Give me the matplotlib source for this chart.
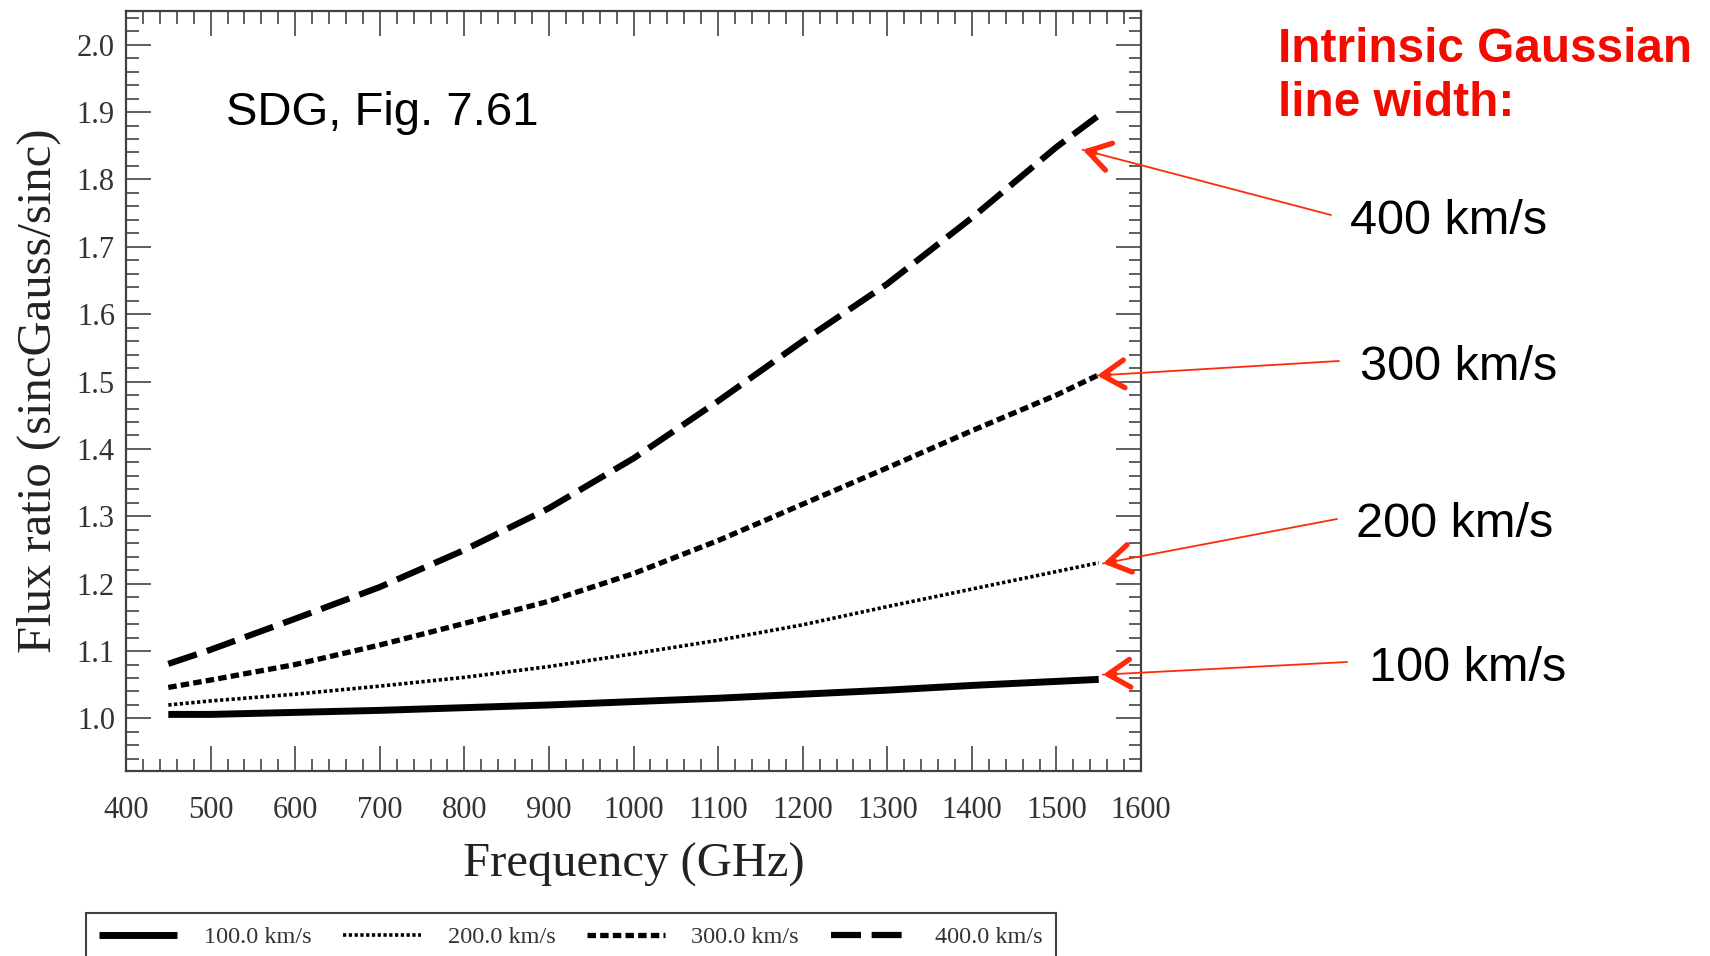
import matplotlib.pyplot as plt
from matplotlib.ticker import MultipleLocator, FormatStrFormatter

plt.rcParams['font.family'] = ['Liberation Serif', 'DejaVu Serif']

# values
freq = [450, 500, 600, 700, 800, 900, 1000, 1100, 1200, 1300, 1400, 1500, 1550]
ratio_100 = [1.006, 1.006, 1.009, 1.012, 1.016, 1.020, 1.025, 1.030, 1.036, 1.042, 1.049, 1.055, 1.058]
ratio_200 = [1.020, 1.026, 1.036, 1.048, 1.061, 1.077, 1.096, 1.116, 1.139, 1.166, 1.192, 1.218, 1.231]
ratio_300 = [1.046, 1.057, 1.080, 1.109, 1.141, 1.174, 1.215, 1.264, 1.318, 1.372, 1.427, 1.480, 1.510]
ratio_400 = [1.081, 1.102, 1.148, 1.195, 1.250, 1.312, 1.386, 1.471, 1.560, 1.645, 1.743, 1.848, 1.895]

legend_labels = ['100.0 km/s', '200.0 km/s', '300.0 km/s', '400.0 km/s']
note_labels = ['100 km/s', '200 km/s', '300 km/s', '400 km/s']

W, H = 1710, 956
fig = plt.figure(figsize=(W / 100, H / 100), dpi=100)
ax = fig.add_axes([126 / W, 1 - 771 / H, (1141 - 126) / W, (771 - 11) / H])

l1, = ax.plot(freq, ratio_100, color='black', lw=5, solid_capstyle='butt')
l2, = ax.plot(freq, ratio_200, color='black', lw=2.6, linestyle=(0, (0.9, 0.7)))
l3, = ax.plot(freq, ratio_300, color='black', lw=3.8, linestyle=(0, (1.6, 0.8)))
l4, = ax.plot(freq, ratio_400, color='black', lw=4.5, linestyle=(0, (4.8, 1.7)))

ax.set_xlim(400, 1600)
ax.set_ylim(0.922, 2.05)
ax.xaxis.set_major_locator(MultipleLocator(100))
ax.xaxis.set_minor_locator(MultipleLocator(20))
ax.yaxis.set_major_locator(MultipleLocator(0.1))
ax.yaxis.set_minor_locator(MultipleLocator(0.02))
ax.yaxis.set_major_formatter(FormatStrFormatter('%.1f'))

ax.tick_params(which='both', direction='in', top=True, right=True,
               color='#444444', labelcolor='#333333', width=1.2, labelsize=22)
ax.tick_params(which='major', length=18)
ax.tick_params(which='minor', length=9)
ax.tick_params(axis='x', pad=18)
ax.tick_params(axis='y', pad=8)
for s in ax.spines.values():
    s.set_linewidth(1.6)
    s.set_color('#404040')

ax.set_xlabel('Frequency (GHz)', fontsize=35, color='#222222', labelpad=13)
ax.set_ylabel('Flux ratio (sincGauss/sinc)', fontsize=35, color='#222222', labelpad=11.5)

# legend box at the bottom, partly cut off like the original
fig.legend([l1, l2, l3, l4], legend_labels, loc='upper left',
           bbox_to_anchor=(86 / W, 1 - 913 / H), ncol=4, fontsize=17.5,
           handlelength=3.2, handletextpad=1.1, columnspacing=1.3,
           borderpad=0.55, borderaxespad=0, fancybox=False,
           edgecolor='#404040', labelcolor='#333333', framealpha=1)
fig.legends[0].get_frame().set_linewidth(1.5)

sans = ['Liberation Sans', 'DejaVu Sans']
fig.text(226 / W, 1 - 125 / H, 'SDG, Fig. 7.61', family=sans, fontsize=34,
         va='baseline', ha='left')
red = '#f20c00'
fig.text(1278 / W, 1 - 62 / H, 'Intrinsic Gaussian', family=sans,
         fontsize=34.4, fontweight='bold', color=red, va='baseline', ha='left')
fig.text(1278 / W, 1 - 116 / H, 'line width:', family=sans,
         fontsize=34.4, fontweight='bold', color=red, va='baseline', ha='left')

# labels and red arrows pointing at curve ends
tips = [(1555, 1.065), (1555, 1.230), (1548, 1.509), (1531, 1.844)]
tails = [(1347, 662), (1337, 519), (1339, 361), (1331, 215)]
text_pos = [(1369, 681), (1356, 537), (1360, 380), (1350, 234)]
arrow_col = '#ff2a0a'
to_fig = fig.transFigure.inverted()
for tip, tail, tp, lab in zip(tips, tails, text_pos, note_labels):
    fig.text(tp[0] / W, 1 - tp[1] / H, lab, family=sans, fontsize=35,
             va='baseline', ha='left')
    tail_f = (tail[0] / W, 1 - tail[1] / H)
    ax.annotate('', xy=tip, xycoords='data', xytext=tail_f,
                textcoords='figure fraction',
                arrowprops=dict(arrowstyle='-', color=arrow_col, lw=1.3,
                                shrinkA=0, shrinkB=0))
    tip_f = to_fig.transform(ax.transData.transform(tip))
    near = (tip_f[0] + 0.05 * (tail_f[0] - tip_f[0]),
            tip_f[1] + 0.05 * (tail_f[1] - tip_f[1]))
    ax.annotate('', xy=tip, xycoords='data', xytext=near,
                textcoords='figure fraction',
                arrowprops=dict(arrowstyle='->, head_length=0.8, head_width=0.5',
                                color=arrow_col, lw=3.8, mutation_scale=20,
                                shrinkA=0, shrinkB=0))

fig.savefig('out.png', dpi=100)
